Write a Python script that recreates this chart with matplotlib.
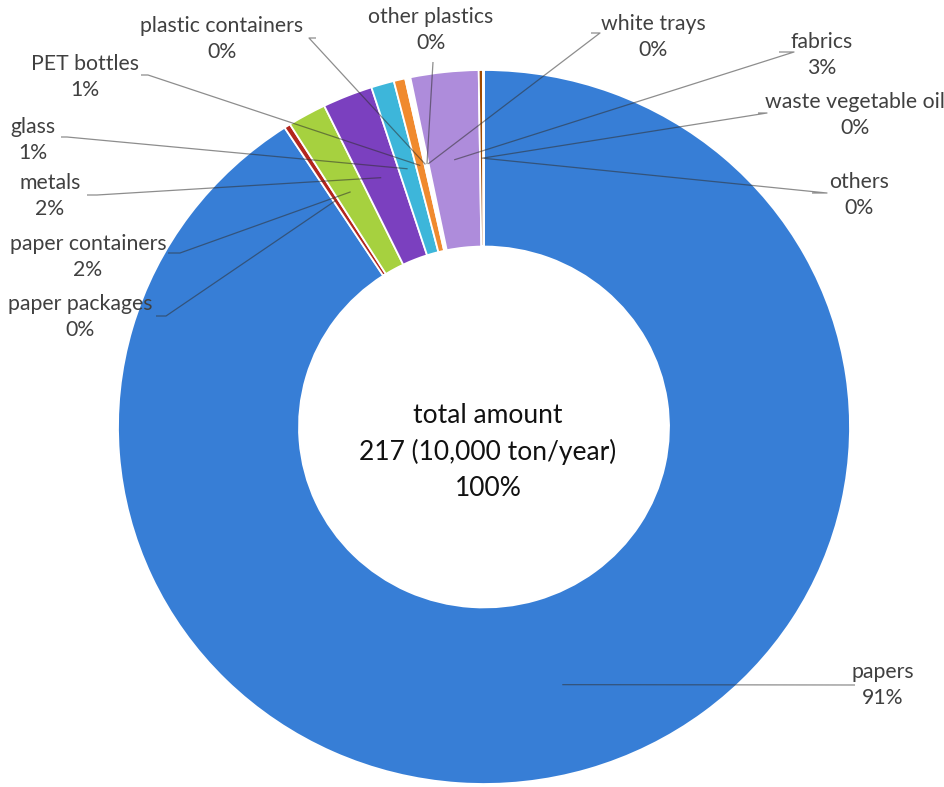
import matplotlib
matplotlib.use("Agg")
import matplotlib.pyplot as plt
import numpy as np

# Collected amounts by category (10,000 ton/year)
categories = ["papers", "paper packages", "paper containers", "metals", "glass",
              "PET bottles", "plastic containers", "other plastics", "white trays",
              "fabrics", "waste vegetable oil", "others"]
amounts = [197.1, 0.6, 3.7, 4.8, 2.2, 1.1, 0.2, 0.2, 0.1, 6.5, 0.4, 0.1]
colors = ["#377ed6", "#b3261e", "#a6d13f", "#7b40bf", "#3db6da", "#f08a2e",
          "#ffffff", "#ffffff", "#ffffff", "#ae8cdb", "#a14b00", "#ffffff"]

# Label centres (pixels)
label_pos = {
    "papers": (883, 685), "paper packages": (80, 317), "paper containers": (88, 257),
    "metals": (50, 196), "glass": (33, 140), "PET bottles": (85, 77),
    "plastic containers": (222, 39), "other plastics": (431, 30),
    "white trays": (653, 37), "fabrics": (822, 55),
    "waste vegetable oil": (855, 115), "others": (859, 195),
}
# Leader line: outer end and elbow (pixels)
line_start = {
    "papers": (855, 685), "paper packages": (156, 316), "paper containers": (168, 253),
    "metals": (87, 195), "glass": (61, 137), "PET bottles": (141, 75),
    "plastic containers": (316, 38), "other plastics": (433, 62),
    "white trays": (591, 33), "fabrics": (779, 52),
    "waste vegetable oil": (758, 113), "others": (812, 193),
}
line_knee = {
    "papers": (855, 685), "paper packages": (166, 316), "paper containers": (180, 253),
    "metals": (97, 195), "glass": (67, 137), "PET bottles": (148, 75),
    "plastic containers": (309, 38), "other plastics": (433, 62),
    "white trays": (600, 33), "fabrics": (794, 52),
    "waste vegetable oil": (767, 113), "others": (827, 193),
}

W, H = 945, 787
K = 366 / 357  # horizontal/vertical stretch of the ring

fig = plt.figure(figsize=(W / 100, H / 100), dpi=100)
ax = fig.add_axes([0, 0, 1, 1])

def to_data(px, py):
    return px, (H - py) * K

total = sum(amounts)
cx, cy = to_data(484, 427)
R = 366
ring = 181

wedges, _ = ax.pie(amounts, colors=colors, startangle=90, counterclock=False,
                   center=(cx, cy), radius=R,
                   wedgeprops=dict(width=ring, edgecolor="white", linewidth=1.3))
ax.set_aspect("auto")
ax.set_xlim(0, W)
ax.set_ylim(0, H * K)
ax.axis("off")

font = ["Lato", "DejaVu Sans"]
rmid = R - ring / 2
for w, name, v in zip(wedges, categories, amounts):
    ang = np.deg2rad((w.theta1 + w.theta2) / 2)
    ex, ey = cx + rmid * np.cos(ang), cy + rmid * np.sin(ang)
    sx, sy = to_data(*line_start[name])
    kx, ky = to_data(*line_knee[name])
    ax.plot([sx, kx, ex], [sy, ky, ey], color="#303030", alpha=0.55, lw=0.9,
            solid_capstyle="butt", zorder=5)
    lx, ly = label_pos[name]
    pct = int(v / total * 100 + 0.5)
    tx, ty = to_data(lx, ly)
    ax.text(tx, ty, f"{name}\n{pct}%", ha="center", va="center", fontsize=15.3,
            color="#404040", family=font, linespacing=1.42, zorder=6)

tx, ty = to_data(488, 452)
ax.text(tx, ty, f"total amount\n{total:.0f} (10,000 ton/year)\n100%",
        ha="center", va="center", fontsize=19, color="#111111", family=font,
        linespacing=1.55)

fig.savefig("out.png", dpi=100, facecolor="white")
